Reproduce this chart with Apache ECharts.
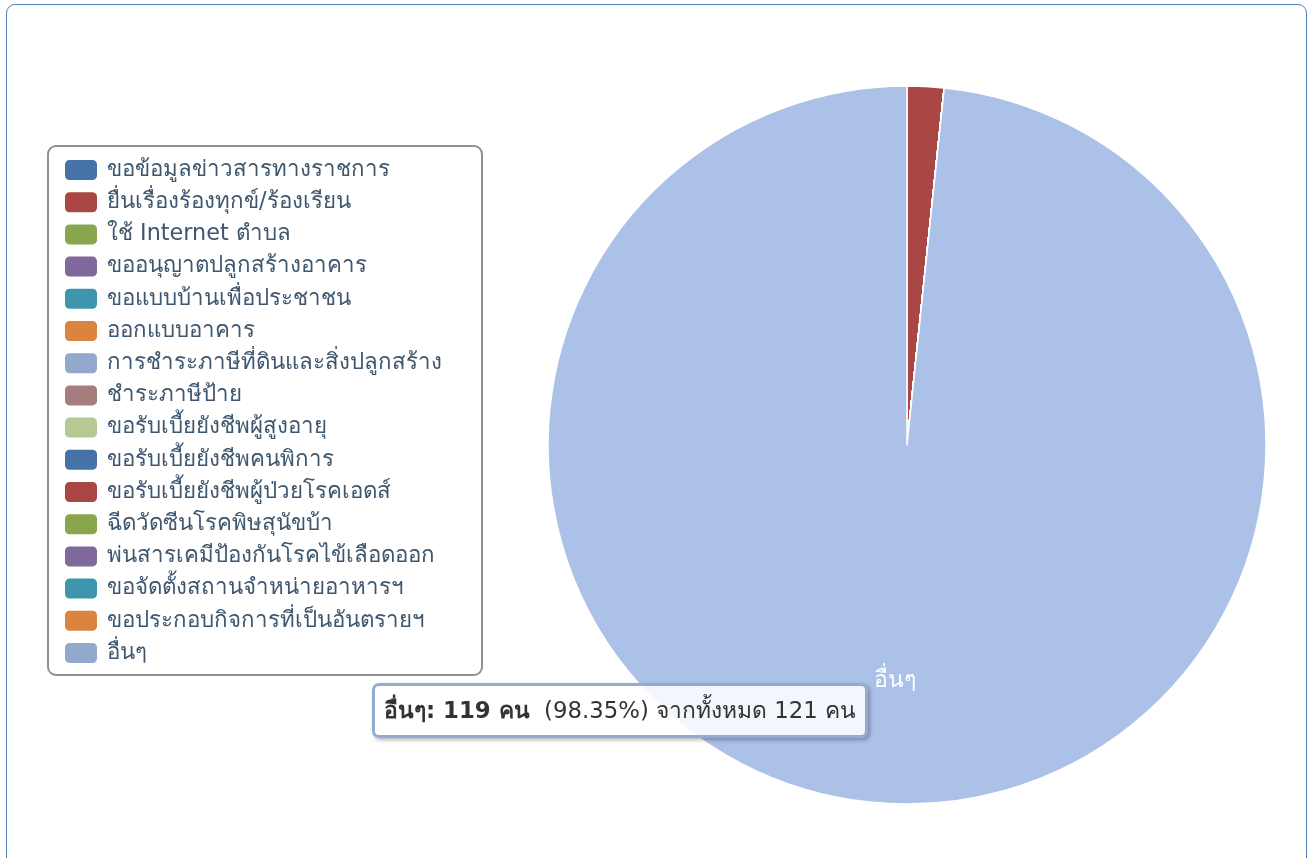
<!DOCTYPE html>
<html>
<head>
<meta charset="utf-8">
<script src="https://cdn.jsdelivr.net/npm/echarts@6/dist/echarts.min.js"></script>
<style>
html,body{margin:0;padding:0;width:1310px;height:858px;overflow:hidden;background:#fff;}
#frame{position:absolute;left:6px;top:4px;right:3px;bottom:-20px;border:1px solid #4F7DB8;border-radius:9px;}
#chart{position:absolute;left:0;top:0;width:1310px;height:858px;}
</style>
</head>
<body>
<div id="frame"></div>
<div id="chart"></div>
<script>
const categories = [
  'ขอข้อมูลข่าวสารทางราชการ',
  'ยื่นเรื่องร้องทุกข์/ร้องเรียน',
  'ใช้ Internet ตำบล',
  'ขออนุญาตปลูกสร้างอาคาร',
  'ขอแบบบ้านเพื่อประชาชน',
  'ออกแบบอาคาร',
  'การชำระภาษีที่ดินและสิ่งปลูกสร้าง',
  'ชำระภาษีป้าย',
  'ขอรับเบี้ยยังชีพผู้สูงอายุ',
  'ขอรับเบี้ยยังชีพคนพิการ',
  'ขอรับเบี้ยยังชีพผู้ป่วยโรคเอดส์',
  'ฉีดวัดซีนโรคพิษสุนัขบ้า',
  'พ่นสารเคมีป้องกันโรคไข้เลือดออก',
  'ขอจัดตั้งสถานจำหน่ายอาหารฯ',
  'ขอประกอบกิจการที่เป็นอันตรายฯ',
  'อื่นๆ'
];
const counts = [0, 2, 0, 0, 0, 0, 0, 0, 0, 0, 0, 0, 0, 0, 0, 119];
const palette = ['#4572A7','#AA4643','#89A54E','#80699B','#3D96AE','#DB843D','#92A8CD','#A47D7C','#B5CA92'];
const hoverColor = '#ABC1E7';
const hoveredIndex = 15;

const total = counts.reduce((a, b) => a + b, 0);
const FONT = '"DejaVu Sans", Verdana, sans-serif';

const pieData = categories.map((n, i) => ({
  name: n,
  value: counts[i],
  itemStyle: { color: i === hoveredIndex ? hoverColor : palette[i % palette.length] }
}));
const legendData = categories.map((n, i) => ({
  name: n,
  itemStyle: { color: palette[i % palette.length] }
}));

const chart = echarts.init(document.getElementById('chart'));
chart.setOption({
  animation: false,
  tooltip: {
    trigger: 'item',
    alwaysShowContent: true,
    transitionDuration: 0,
    position: [372, 683],
    backgroundColor: 'rgba(255,255,255,0.85)',
    borderColor: '#94AAD0',
    borderWidth: 3,
    padding: [10, 9, 11, 9],
    textStyle: { fontFamily: FONT, fontSize: 22.8, color: '#333333', lineHeight: 28 },
    extraCssText: 'border-radius:7px;box-shadow:2px 2px 4px rgba(0,0,0,0.3);line-height:28px;',
    formatter: p => '<b>' + p.name + ': ' + p.value + ' คน</b>&nbsp; (' + p.percent.toFixed(2) + '%) จากทั้งหมด ' + total + ' คน'
  },
  legend: {
    orient: 'vertical',
    left: 48,
    top: 146,
    data: legendData,
    icon: 'roundRect',
    itemWidth: 34,
    itemHeight: 22,
    itemGap: 8.2,
    padding: [12, 40, 10, 15],
    backgroundColor: '#fff',
    borderColor: '#909090',
    borderWidth: 2,
    borderRadius: 8,
    selectedMode: false,
    textStyle: { fontFamily: FONT, fontSize: 22.3, color: '#3E576F', padding: [0, 0, 0, 4] }
  },
  series: [
    {
      type: 'pie',
      center: [907, 445],
      radius: 359,
      startAngle: 90,
      clockwise: true,
      data: pieData,
      label: { show: false },
      labelLine: { show: false },
      itemStyle: { borderColor: '#ffffff', borderWidth: 1.5 },
      emphasis: { disabled: true }
    },
    {
      type: 'pie',
      center: [907, 445],
      radius: 467,
      startAngle: 90,
      clockwise: true,
      silent: true,
      tooltip: { show: false },
      data: categories.map((n, i) => ({ name: n, value: counts[i] })),
      itemStyle: { color: 'rgba(0,0,0,0)', borderWidth: 0 },
      label: {
        show: true,
        position: 'inside',
        color: '#ffffff',
        fontFamily: FONT,
        fontSize: 23,
        formatter: p => (p.dataIndex === hoveredIndex ? p.name : '')
      },
      labelLine: { show: false },
      emphasis: { disabled: true }
    }
  ]
});
chart.dispatchAction({ type: 'showTip', seriesIndex: 0, dataIndex: hoveredIndex });
</script>
</body>
</html>
